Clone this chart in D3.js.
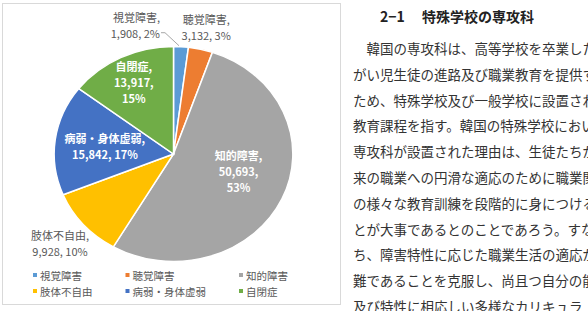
<!DOCTYPE html>
<html>
<head>
<meta charset="utf-8">
<script src="https://cdn.jsdelivr.net/npm/d3@7"></script>
<style>
  body { margin: 0; background: #fff; overflow: hidden; }
  svg { display: block; font-family: "Noto Sans CJK JP", "Noto Sans", sans-serif; }
</style>
</head>
<body>
<svg id="chart"></svg>
<script>
// pie data (students by disability type)
const names = ["視覚障害", "聴覚障害", "知的障害", "肢体不自由", "病弱・身体虚弱", "自閉症"];
const counts = [1908, 3132, 50693, 9928, 15842, 13917];
const colors = ["#5B9BD5", "#ED7D31", "#A5A5A5", "#FFC000", "#4472C4", "#70AD47"];

// document text next to the chart
const title = ["2−1", "特殊学校の専攻科"];
const bodyLines = [
  "　韓国の専攻科は、高等学校を卒業した",
  "がい児生徒の進路及び職業教育を提供す",
  "ため、特殊学校及び一般学校に設置され",
  "教育課程を指す。韓国の特殊学校におい",
  "専攻科が設置された理由は、生徒たちが",
  "来の職業への円滑な適応のために職業関",
  "の様々な教育訓練を段階的に身につける",
  "とが大事であるとのことであろう。すな",
  "ち、障害特性に応じた職業生活の適応が",
  "難であることを克服し、尚且つ自分の能",
  "及び特性に相応しい多様なカリキュラ"
];

const width = 588;
const height = 311;
const cx = 173.5, cy = 154;
const R = 107.5;
const sx = 1.11; // the screenshot is stretched sideways

const svg = d3.select("#chart").attr("width", width).attr("height", height);

svg.append("rect")
  .attr("x", 2.5).attr("y", 3.5)
  .attr("width", 338).attr("height", 301)
  .attr("fill", "#fff")
  .attr("stroke", "#d9d9d9");

const data = names.map((n, i) => ({ name: n, value: counts[i], color: colors[i] }));
const total = d3.sum(counts);
const fmt = d3.format(",");

const pie = d3.pie().sort(null).value(d => d.value);
const arcs = pie(data);
const arc = d3.arc().innerRadius(0).outerRadius(R);

const g = svg.append("g").attr("transform", `translate(${cx},${cy}) scale(${sx},1)`);
g.selectAll("path")
  .data(arcs)
  .join("path")
  .attr("d", arc)
  .attr("fill", d => d.data.color)
  .attr("stroke", "#fff")
  .attr("stroke-width", 1.5)
  .attr("vector-effect", "non-scaling-stroke");

const pt = (a, r) => [cx + sx * r * Math.sin(a), cy - r * Math.cos(a)];
const mid = d => (d.startAngle + d.endAngle) / 2;

// label placement: radius factor, inside or not, 3-line wrap
const place = {
  "視覚障害": { k: 1.0, inside: false, wrap3: false },
  "聴覚障害": { k: 1.21, inside: false, wrap3: false },
  "知的障害": { k: 0.6, inside: true, wrap3: true, dy: -10 },
  "肢体不自由": { k: 1.26, inside: false, wrap3: false },
  "病弱・身体虚弱": { k: 0.58, inside: true, wrap3: false },
  "自閉症": { k: 0.75, inside: true, wrap3: true }
};

const lh = 16;
arcs.forEach(d => {
  const p = place[d.data.name];
  const pct = Math.round(d.data.value / total * 100) + "%";
  const lines = p.wrap3
    ? [d.data.name + ",", fmt(d.data.value) + ",", pct]
    : [d.data.name + ",", fmt(d.data.value) + ", " + pct];
  let x, y, anchor = "middle";
  if (d.data.name === "視覚障害") {
    // pushed to the left with a leader line
    const e = pt(mid(d), R);
    x = e[0] - 21;
    y = e[1] - 14;
    anchor = "end";
    svg.append("path")
      .attr("d", `M${e[0] - 2},${e[1] - 1}L${e[0] - 16},${y}L${x + 1},${y}`)
      .attr("fill", "none")
      .attr("stroke", "#a6a6a6")
      .attr("stroke-width", 1);
    y = y - lh / 2 * (lines.length - 1);
  } else {
    [x, y] = pt(mid(d), R * p.k);
    y += p.dy || 0;
  }
  const t = svg.append("text")
    .attr("text-anchor", anchor)
    .attr("font-size", 11)
    .attr("font-weight", p.inside ? "bold" : "normal")
    .attr("fill", p.inside ? "#fff" : "#595959");
  lines.forEach((s, i) => {
    t.append("tspan")
      .attr("x", x)
      .attr("y", y + (i - (lines.length - 1) / 2) * lh)
      .attr("dominant-baseline", "central")
      .text(s);
  });
});

// legend, 3 columns x 2 rows
const legendX = 35, rowY = [275, 291], colGap = 35;
const legend = svg.append("g").attr("font-size", 10.5).attr("fill", "#595959");
const items = data.map((d, i) => {
  const it = legend.append("g");
  it.append("rect").attr("width", 4).attr("height", 4).attr("y", -2).attr("x", -2).attr("fill", d.color);
  it.append("text").attr("x", 5).attr("dominant-baseline", "central").text(d.name);
  return it;
});
let colX = legendX;
for (let c = 0; c < 3; c++) {
  let maxW = 0;
  for (let r = 0; r < 2; r++) {
    const it = items[r * 3 + c];
    it.attr("transform", `translate(${colX},${rowY[r]})`);
    maxW = Math.max(maxW, it.select("text").node().getComputedTextLength());
  }
  colX += 5 + maxW + colGap;
}

// document text
const fs = 13.5;
const textX = 353;
const tt = svg.append("text")
  .attr("y", 16)
  .attr("dominant-baseline", "central")
  .attr("font-size", 14)
  .attr("font-weight", "bold")
  .attr("fill", "#222");
tt.append("tspan").attr("x", 380).text(title[0]);
tt.append("tspan").attr("x", 422).text(title[1]);

svg.append("g")
  .attr("font-size", fs)
  .attr("fill", "#333")
  .selectAll("text")
  .data(bodyLines)
  .join("text")
  .attr("x", textX)
  .attr("y", (d, i) => 48 + i * 25.8)
  .attr("dominant-baseline", "central")
  .text(d => d);
</script>
</body>
</html>
